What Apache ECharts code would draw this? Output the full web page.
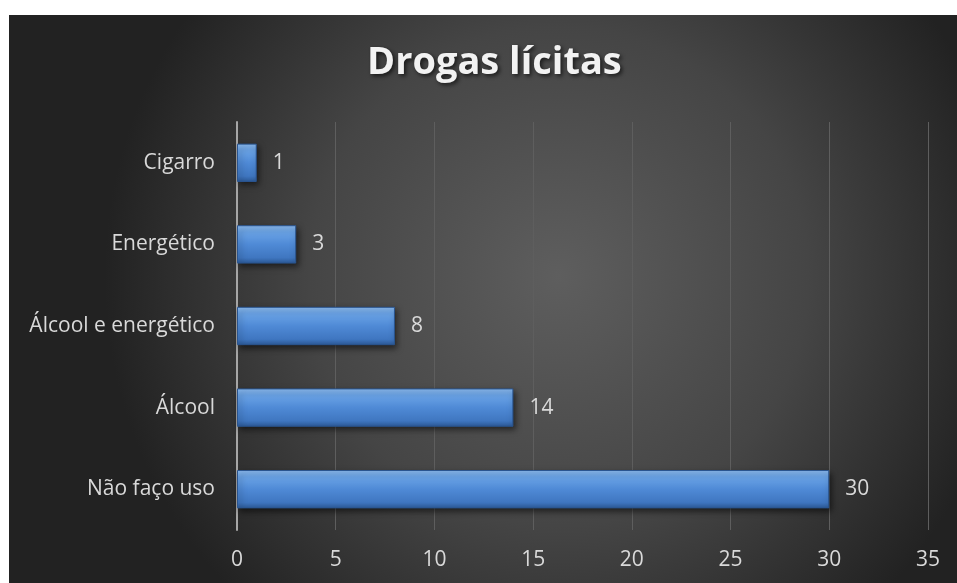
<!DOCTYPE html>
<html>
<head>
<meta charset="utf-8">
<style>
  html, body { margin: 0; padding: 0; background: #ffffff; }
  #chart { position: absolute; left: 9px; top: 15px; width: 948px; height: 568px; }
</style>
<script src="https://cdn.jsdelivr.net/npm/echarts@6/dist/echarts.min.js"></script>
</head>
<body>
<div id="chart"></div>
<script>
// Categories listed bottom to top for the category axis
const categories = ['Não faço uso', 'Álcool', 'Álcool e energético', 'Energético', 'Cigarro'];
const values = [30, 14, 8, 3, 1];
const axisMin = 0;
const axisMax = 35;
const axisStep = 5;
const chartTitle = 'Drogas lícitas';

const chart = echarts.init(document.getElementById('chart'), null, { renderer: 'canvas' });

const barFill = new echarts.graphic.LinearGradient(0, 0, 0, 1, [
  { offset: 0, color: '#8dbcf0' },
  { offset: 0.18, color: '#6aa3e6' },
  { offset: 0.5, color: '#4f8ad6' },
  { offset: 0.85, color: '#3f76c0' },
  { offset: 1, color: '#2c5a98' }
]);

chart.setOption({
  backgroundColor: new echarts.graphic.RadialGradient(0.58, 0.46, 0.8, [
    { offset: 0, color: '#5e5e5e' },
    { offset: 0.55, color: '#454545' },
    { offset: 1, color: '#222222' }
  ]),
  title: {
    text: chartTitle,
    left: 353,
    top: 24,
    textStyle: {
      color: '#f2f2f2',
      fontFamily: 'Open Sans',
      fontWeight: 'bold',
      fontSize: 38,
      textShadowColor: 'rgba(0,0,0,0.65)',
      textShadowBlur: 4,
      textShadowOffsetX: 2,
      textShadowOffsetY: 2
    }
  },
  grid: { left: 228, right: 29, top: 107, bottom: 53, containLabel: false },
  xAxis: {
    type: 'value',
    min: axisMin,
    max: axisMax,
    interval: axisStep,
    axisLine: { show: false },
    axisTick: { show: false },
    splitLine: { show: true, lineStyle: { color: '#5e5e5e', width: 1 } },
    axisLabel: {
      color: '#d9d9d9',
      fontFamily: 'Open Sans',
      fontSize: 21,
      margin: 20
    }
  },
  yAxis: {
    type: 'category',
    data: categories,
    axisLine: { show: true, lineStyle: { color: '#a6a6a6', width: 2 } },
    axisTick: { show: false },
    splitLine: { show: false },
    axisLabel: {
      color: '#d9d9d9',
      fontFamily: 'Open Sans',
      fontSize: 21,
      margin: 22
    }
  },
  series: [{
    type: 'bar',
    data: values,
    barWidth: '47%',
    itemStyle: {
      color: barFill,
      borderColor: '#2a5590',
      borderWidth: 1,
      shadowColor: 'rgba(0,0,0,0.55)',
      shadowBlur: 6,
      shadowOffsetX: 2,
      shadowOffsetY: 3
    },
    label: {
      show: true,
      position: 'right',
      distance: 16,
      color: '#d9d9d9',
      fontFamily: 'Open Sans',
      fontSize: 21
    },
    silent: true
  }]
});
</script>
</body>
</html>
